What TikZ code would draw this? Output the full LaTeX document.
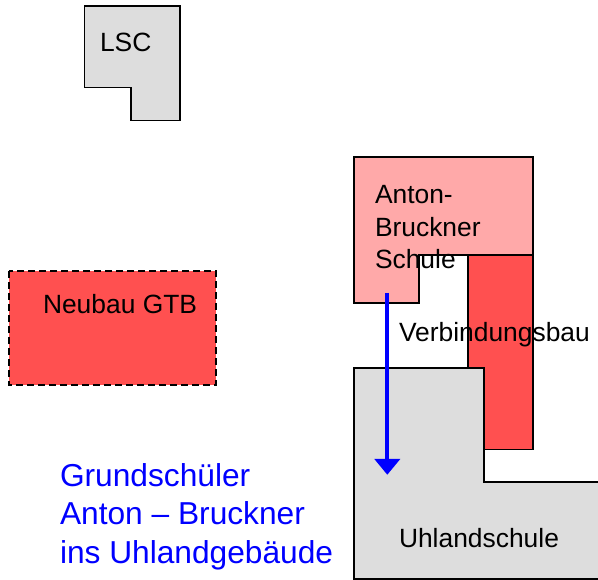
\documentclass[tikz,border=0pt]{standalone}
\usepackage{fontspec}
\setmainfont{Liberation Sans}
\definecolor{grey}{HTML}{DDDDDD}
\definecolor{red1}{HTML}{FF5050}
\definecolor{pink1}{HTML}{FFA9A9}
\definecolor{blue1}{HTML}{0000FF}
\tikzset{
  bld/.style={draw=black,line width=1.8pt,line join=miter},
  lbl/.style={anchor=base west,inner sep=0pt,outer sep=0pt,text=black,font=\fontsize{26.4pt}{26.4pt}\selectfont},
  bluelbl/.style={anchor=base west,inner sep=0pt,outer sep=0pt,text=blue1,font=\fontsize{31.7pt}{31.7pt}\selectfont},
}
\begin{document}
\begin{tikzpicture}[x=1pt,y=-1pt]
\useasboundingbox (0,0) rectangle (598,580);
\fill[white] (0,0) rectangle (598,580);
% LSC
\filldraw[bld,fill=grey] (84.5,6) -- (180,6) -- (180,120.5) -- (131,120.5) -- (131,87.5) -- (84.5,87.5) -- cycle;
% Verbindungsbau
\filldraw[bld,fill=red1] (468.3,254.7) -- (533,254.7) -- (533,449.5) -- (468.3,449.5) -- cycle;
% Anton-Bruckner
\filldraw[bld,fill=pink1] (354,157) -- (533,157) -- (533,254.7) -- (419,254.7) -- (419,303) -- (354,303) -- cycle;
% Uhlandschule
\filldraw[bld,fill=grey] (354,368.3) -- (484.3,368.3) -- (484.3,482) -- (600,482) -- (600,579) -- (354,579) -- cycle;
% Neubau
\fill[red1] (9,271) rectangle (216,385);
\draw[line width=1.8pt,dash pattern=on 7pt off 4pt] (9,271) rectangle (216,385);
% Arrow
\coordinate (arrStart) at (387.3,293);
\coordinate (arrEnd) at (387.3,474.7);
\draw[blue1,line width=4pt] (arrStart) -- ([yshift=16pt]arrEnd);
\fill[blue1] (374.3,459) -- (400.3,459) -- (arrEnd) -- cycle;
% Labels
\node[lbl] (lsc) at (100,52) {LSC};
\node[lbl] (neubau) at (43,314) {Neubau GTB};
\node[lbl] (anton) at (375,204) {Anton-};
\node[lbl] (bruckner) at (375,237) {Bruckner};
\node[lbl] (schule) at (375,269) {Schule};
\node[lbl] (verb) at (399,342) {Verbindungsbau};
\node[lbl] (uhland) at (399,547.5) {Uhlandschule};
\node[bluelbl] (g1) at (60,486) {Grundschüler};
\node[bluelbl] (g2) at (60,525) {Anton – Bruckner};
\node[bluelbl] (g3) at (60,563) {ins Uhlandgebäude};
\end{tikzpicture}
\end{document}
